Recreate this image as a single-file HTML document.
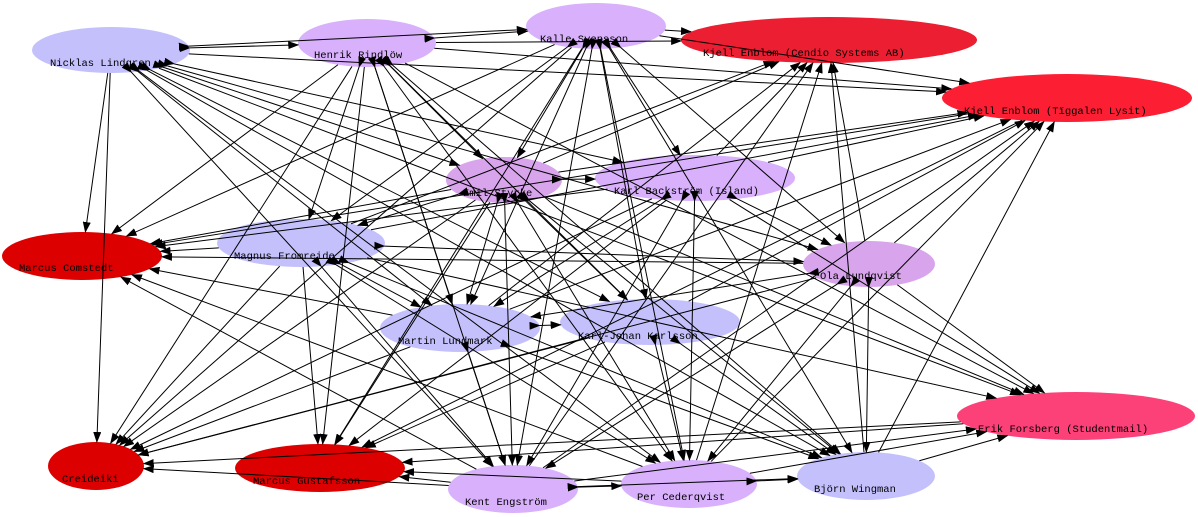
<!DOCTYPE html>
<html><head><meta charset="utf-8"><style>
html,body{margin:0;padding:0;background:#fff;width:1198px;height:517px;overflow:hidden}
svg text{font-family:"Liberation Mono","DejaVu Sans Mono",monospace;font-size:10.5px;fill:#000}
</style></head><body>
<svg id="g" width="1198" height="517" viewBox="0 0 1198 517" xmlns="http://www.w3.org/2000/svg">
<defs><marker id="a" markerUnits="userSpaceOnUse" markerWidth="11" markerHeight="8" refX="10" refY="4" orient="auto"><path d="M0,0 L11,4 L0,8 z" fill="#000"/></marker></defs>
<g id="nodes">
<ellipse cx="111" cy="50" rx="79" ry="23" fill="#c4c0fc"/>
<ellipse cx="367" cy="43" rx="69" ry="24" fill="#d8b0fc"/>
<ellipse cx="596" cy="26" rx="70" ry="23" fill="#d8b0fc"/>
<ellipse cx="829" cy="40" rx="148" ry="23" fill="#ec1e32"/>
<ellipse cx="1067" cy="98" rx="125" ry="24" fill="#fc1e32"/>
<ellipse cx="504" cy="180" rx="58" ry="23" fill="#d8a4ec"/>
<ellipse cx="695" cy="178" rx="100" ry="23" fill="#d8b0fc"/>
<ellipse cx="301" cy="243" rx="84" ry="24" fill="#c4c0fc"/>
<ellipse cx="82" cy="256" rx="80" ry="24" fill="#dc0000"/>
<ellipse cx="869" cy="264" rx="66" ry="23" fill="#d8a4ec"/>
<ellipse cx="460" cy="328" rx="80" ry="24" fill="#c4c0fc"/>
<ellipse cx="650" cy="322" rx="90" ry="23" fill="#c4c0fc"/>
<ellipse cx="1076" cy="416" rx="119" ry="24" fill="#fc4078"/>
<ellipse cx="96" cy="466" rx="48" ry="24" fill="#dc0000"/>
<ellipse cx="320" cy="468" rx="85" ry="24" fill="#dc0000"/>
<ellipse cx="513" cy="489" rx="65" ry="24" fill="#d8b0fc"/>
<ellipse cx="689" cy="484" rx="68" ry="24" fill="#d8b0fc"/>
<ellipse cx="866" cy="476" rx="69" ry="24" fill="#c4c0fc"/>
</g>
<g id="edges" stroke="#000" stroke-width="1" fill="none"></g>
<g id="labels">
<text x="50" y="66">Nicklas Lindgren</text>
<text x="314" y="58">Henrik Rindlöw</text>
<text x="540" y="42">Kalle Svensson</text>
<text x="703" y="56">Kjell Enblom (Cendio Systems AB)</text>
<text x="964" y="114">Kjell Enblom (Tïggalen Lysit)</text>
<text x="463" y="196">Emil Styrke</text>
<text x="614" y="194">Karl Backström (Island)</text>
<text x="234" y="259">Magnus Fromreide</text>
<text x="19" y="271">Marcus Comstedt</text>
<text x="820" y="279">Ola Lundqvist</text>
<text x="398" y="344">Martin Lundmark</text>
<text x="578" y="339">Karl-Johan Karlsson</text>
<text x="978" y="432">Erik Forsberg (Studentmail)</text>
<text x="62" y="482">Creideiki</text>
<text x="253" y="484">Marcus Gustafsson</text>
<text x="465" y="505">Kent Engström</text>
<text x="637" y="500">Per Cederqvist</text>
<text x="814" y="492">Björn Wingman</text>
</g>
</svg>
<script>
var N=[[111,50,79,23],[367,43,69,24],[596,26,70,23],[829,40,148,23],[1067,98,125,24],[504,180,58,23],[695,178,100,23],[301,243,84,24],[82,256,80,24],[869,264,66,23],[460,328,80,24],[650,322,90,23],[1076,416,119,24],[96,466,48,24],[320,468,85,24],[513,489,65,24],[689,484,68,24],[866,476,69,24]];
var sinks=[3,4,8,12,13,14];
var g=document.getElementById('edges');var seed=7;function r(){seed=(seed*9301+49297)%233280;return seed/233280;}
function bp(a,b){var dx=N[b][0]-N[a][0],dy=N[b][1]-N[a][1];var t=1/Math.sqrt(Math.pow(dx/N[a][2],2)+Math.pow(dy/N[a][3],2));return [N[a][0]+dx*t,N[a][1]+dy*t];}
for(var i=0;i<N.length;i++)for(var j=i+1;j<N.length;j++){
 var si=sinks.indexOf(i)>=0,sj=sinks.indexOf(j)>=0;
 if(si&&sj&&r()<0.7)continue;
 if(r()<0.15)continue;
 var p=bp(i,j),q=bp(j,i);
 var l=document.createElementNS('http://www.w3.org/2000/svg','line');
 if(si&&!sj){l.setAttribute('x1',q[0]);l.setAttribute('y1',q[1]);l.setAttribute('x2',p[0]);l.setAttribute('y2',p[1]);l.setAttribute('marker-end','url(#a)');}
 else{l.setAttribute('x1',p[0]);l.setAttribute('y1',p[1]);l.setAttribute('x2',q[0]);l.setAttribute('y2',q[1]);l.setAttribute('marker-end','url(#a)');if(!sj)l.setAttribute('marker-start','url(#a)');}
 g.appendChild(l);}
</script>
</body></html>
